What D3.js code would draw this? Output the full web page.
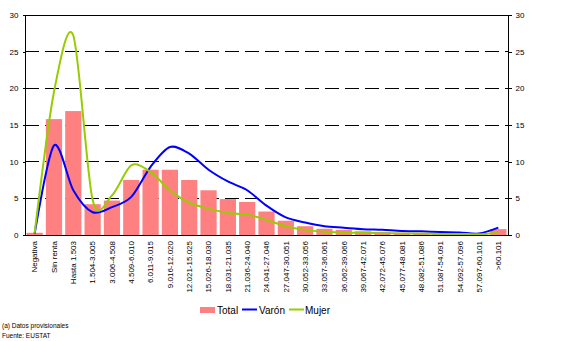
<!DOCTYPE html>
<html><head><meta charset="utf-8">
<script src="https://cdn.jsdelivr.net/npm/d3@7"></script>
<style>body{margin:0;background:#fff;} text{font-family:"Liberation Sans",Arial,sans-serif;}</style>
</head><body>
<svg id="c" width="566" height="341"></svg>
<script>
const categories = ["Negativa","Sin renta","Hasta 1.503","1.504-3.005","3.006-4.508","4.509-6.010","6.011-9.015","9.016-12.020","12.021-15.025","15.026-18.030","18.031-21.035","21.036-24.040","24.041-27.046","27.047-30.051","30.052-33.056","33.057-36.061","36.062-39.066","39.067-42.071","42.072-45.076","45.077-48.081","48.082-51.086","51.087-54.091","54.092-57.096","57.097-60.101",">60.101"];
const total = [0.3,15.8,16.9,4.2,4.7,7.5,8.9,8.9,7.5,6.1,4.9,4.5,3.2,1.95,1.2,0.85,0.7,0.5,0.4,0.3,0.25,0.2,0.15,0.1,0.8];
const varon = [0.2,12.2,6.1,3.1,3.8,5.2,9.3,12.0,11.1,8.9,7.3,6.1,4.0,2.4,1.7,1.2,1.0,0.8,0.7,0.55,0.5,0.4,0.35,0.2,1.0];
const mujer = [0.3,19.5,27.2,4.8,5.4,9.5,8.6,6.1,4.4,3.6,3.0,2.8,2.05,1.2,0.7,0.45,0.35,0.3,0.25,0.2,0.2,0.15,0.15,0.1,0.35];
const yTicks = [0,5,10,15,20,25,30];
const legendLabels = ["Total","Varón","Mujer"];
const notes = ["(a) Datos provisionales","Fuente: EUSTAT"];

const svg = d3.select("#c");
const L=25, R=508, T=15, B=235;
const x = d3.scaleBand().domain(categories).range([L,R]).paddingInner(0.16).paddingOuter(0.08);
const y = d3.scaleLinear().domain([0,30]).range([B,T]);
const cx = d => x(d)+x.bandwidth()/2;

// gridlines
svg.append("g").selectAll("line").data(yTicks.filter(t=>t>0&&t<30)).join("line")
  .attr("x1",L).attr("x2",R).attr("y1",d=>y(d)).attr("y2",d=>y(d))
  .attr("stroke","#000").attr("stroke-width",1).attr("stroke-dasharray","14,6").attr("shape-rendering","crispEdges");

// bars
svg.append("g").selectAll("rect").data(total).join("rect")
  .attr("x",(d,i)=>x(categories[i])).attr("width",x.bandwidth())
  .attr("y",d=>y(d)).attr("height",d=>B-y(d)).attr("fill","#FF8080");

// lines
const line = d3.line().x((d,i)=>cx(categories[i])).y(d=>y(d)).curve(d3.curveCardinal.tension(0.1));
svg.append("path").datum(varon).attr("d",line).attr("fill","none").attr("stroke","#0000FF").attr("stroke-width",2);
svg.append("path").datum(mujer).attr("d",line).attr("fill","none").attr("stroke","#99CC00").attr("stroke-width",2);

// frame
svg.append("path").attr("d",`M${L+0.5},${B+0.5}V${T+0.5}H${R+0.5}V${B+0.5}H${L+0.5}`)
  .attr("fill","none").attr("stroke","#000").attr("stroke-width",1).attr("shape-rendering","crispEdges");

// axes
const ya = d3.axisLeft(y).tickValues(yTicks).tickSize(3).tickPadding(4);
const gl = svg.append("g").attr("transform",`translate(${L+0.5},0)`).call(ya);
const yr = d3.axisRight(y).tickValues(yTicks).tickSize(3).tickPadding(4);
const gr = svg.append("g").attr("transform",`translate(${R+0.5},0)`).call(yr);
[gl,gr].forEach(g=>{g.select(".domain").remove();g.selectAll("text").attr("font-size",8).attr("font-family","Liberation Sans, Arial, sans-serif");g.selectAll("line").attr("shape-rendering","crispEdges");});

const xa = d3.axisBottom(x).tickSize(0).tickPadding(0);
const gx = svg.append("g").attr("transform",`translate(0,${B})`).call(xa);
gx.select(".domain").remove();
gx.selectAll("text").attr("font-size",8).attr("font-family","Liberation Sans, Arial, sans-serif")
  .attr("transform","rotate(-90)").attr("text-anchor","end").attr("x",-6).attr("y",0).attr("dy","0.35em");

// legend
const lg = svg.append("g");
lg.append("rect").attr("x",200).attr("y",307).attr("width",15).attr("height",6).attr("fill","#FF8080");
lg.append("text").attr("x",217).attr("y",314).attr("font-size",10).text(legendLabels[0]);
lg.append("line").attr("x1",242).attr("x2",257).attr("y1",309.5).attr("y2",309.5).attr("stroke","#0000FF").attr("stroke-width",2);
lg.append("text").attr("x",259).attr("y",314).attr("font-size",10).text(legendLabels[1]);
lg.append("line").attr("x1",289).attr("x2",304).attr("y1",309.5).attr("y2",309.5).attr("stroke","#99CC00").attr("stroke-width",2);
lg.append("text").attr("x",305).attr("y",314).attr("font-size",10).text(legendLabels[2]);

// notes
svg.append("g").selectAll("text").data(notes).join("text")
  .attr("x",2).attr("y",(d,i)=>328+i*10).attr("font-size",6.5).text(d=>d);
</script>
</body></html>
